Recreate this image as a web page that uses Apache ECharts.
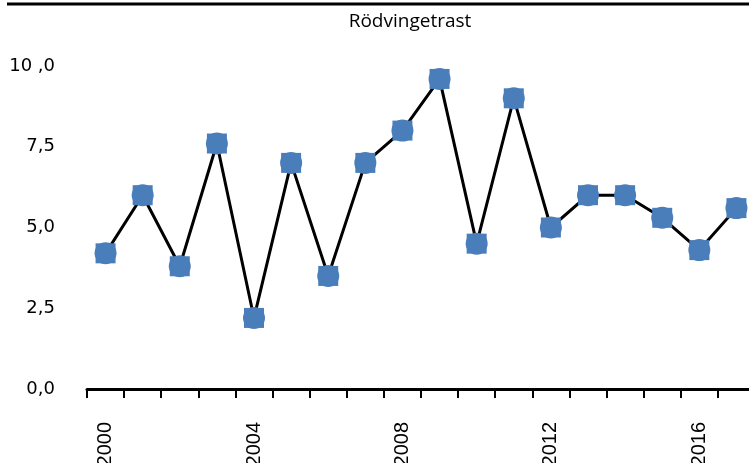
<!DOCTYPE html>
<html>
<head>
<meta charset="utf-8">
<script src="https://cdn.jsdelivr.net/npm/echarts@6/dist/echarts.min.js"></script>
<style>
html,body{margin:0;padding:0;background:#fff;}
#c{width:749px;height:463px;}
</style>
</head>
<body>
<div id="c"></div>
<script>
const titleText = 'Rödvingetrast';
const years = ['2000','2001','2002','2003','2004','2005','2006','2007','2008','2009','2010','2011','2012','2013','2014','2015','2016','2017'];
const values = [4.2, 6.0, 3.8, 7.6, 2.2, 7.0, 3.5, 7.0, 8.0, 9.6, 4.5, 9.0, 5.0, 6.0, 6.0, 5.3, 4.3, 5.6];
const yTicks = [0, 2.5, 5, 7.5, 10];
const yTickLabels = ['0,0', '2,5', '5,0', '7,5', '10 ,0'];
const xShownLabels = ['2000','2004','2008','2012','2016'];

const chart = echarts.init(document.getElementById('c'), null, {renderer: 'canvas'});
const markerColor = '#4a7ebb';
chart.setOption({
  animation: false,
  backgroundColor: '#ffffff',
  title: {
    text: titleText,
    left: 405,
    textAlign: 'center',
    top: 7,
    textStyle: {fontFamily: 'Open Sans', fontSize: 19, fontWeight: 'normal', color: '#000'}
  },
  graphic: [{
    type: 'line',
    shape: {x1: 7, y1: 4, x2: 749, y2: 4},
    style: {stroke: '#000', lineWidth: 3}
  }],
  grid: {left: 87, width: 668, top: 66, bottom: 74, containLabel: false, outerBoundsMode: 'none'},
  xAxis: {
    type: 'category',
    data: years,
    boundaryGap: true,
    axisLine: {show: true, lineStyle: {color: '#000', width: 3}},
    axisTick: {show: true, alignWithLabel: false, interval: 0, length: 9, lineStyle: {color: '#000', width: 2}},
    axisLabel: {
      interval: 0,
      rotate: 90,
      margin: 33,
      fontFamily: 'Liberation Sans',
      fontSize: 20,
      color: '#000',
      formatter: function (v) { return xShownLabels.indexOf(v) >= 0 ? v : ''; }
    },
    splitLine: {show: false}
  },
  yAxis: {
    type: 'value',
    min: 0,
    max: 10,
    interval: 2.5,
    axisLine: {show: false},
    axisTick: {show: false},
    splitLine: {show: false},
    axisLabel: {
      margin: 32,
      fontFamily: 'DejaVu Sans',
      fontSize: 18,
      color: '#000',
      formatter: function (v) {
        const i = yTicks.indexOf(v);
        return i >= 0 ? yTickLabels[i] : '';
      }
    }
  },
  series: [
    {
      type: 'line',
      data: values,
      lineStyle: {color: '#000', width: 3},
      symbol: 'rect',
      symbolSize: 20,
      itemStyle: {color: markerColor},
      z: 2
    },
    {
      type: 'line',
      data: values,
      lineStyle: {width: 0, opacity: 0},
      symbol: 'circle',
      symbolSize: 22,
      itemStyle: {color: markerColor},
      z: 3
    }
  ]
});
</script>
</body>
</html>
